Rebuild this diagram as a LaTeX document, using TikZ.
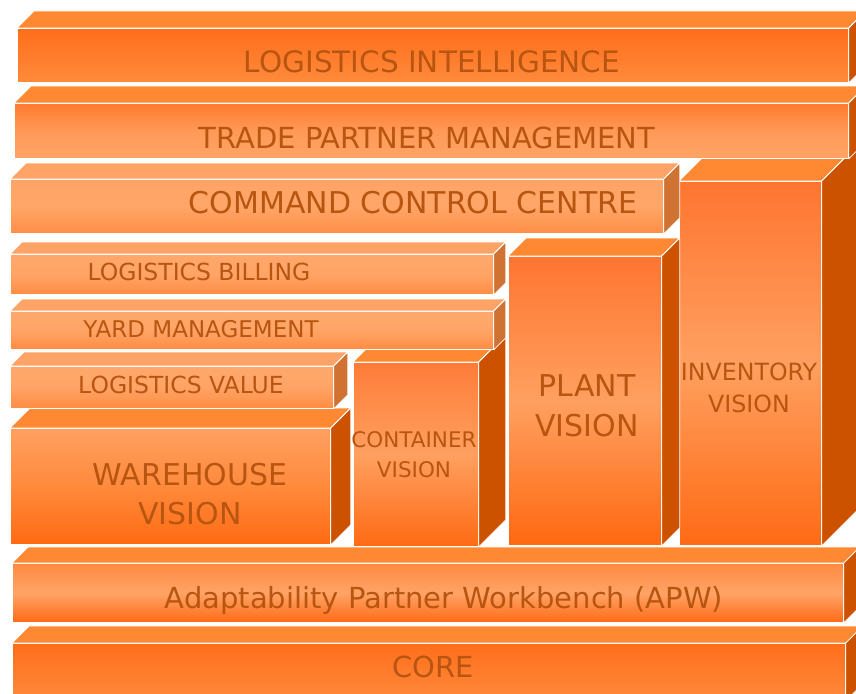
\documentclass[tikz,border=0pt]{standalone}
\usepackage{fontspec}
\setmainfont{DejaVu Sans}
\usetikzlibrary{shadings}

\definecolor{hotTop}{HTML}{FF8832}
\definecolor{hotSide}{HTML}{CC5200}
\definecolor{softTop}{HTML}{FFA466}
\definecolor{softSide}{HTML}{D07232}
\definecolor{labelInk}{HTML}{B85510}
\definecolor{FF6E1A}{HTML}{FF6E1A}\definecolor{FF8A3C}{HTML}{FF8A3C}
\definecolor{FF7A30}{HTML}{FF7A30}\definecolor{FF9A56}{HTML}{FF9A56}
\definecolor{FFA466}{HTML}{FFA466}\definecolor{FFA668}{HTML}{FFA668}
\definecolor{FF8E46}{HTML}{FF8E46}\definecolor{FFA86C}{HTML}{FFA86C}
\definecolor{FF8C42}{HTML}{FF8C42}\definecolor{FFA060}{HTML}{FFA060}
\definecolor{FF6A12}{HTML}{FF6A12}\definecolor{FF7C38}{HTML}{FF7C38}
\definecolor{FF6A14}{HTML}{FF6A14}\definecolor{FF7530}{HTML}{FF7530}
\definecolor{FF6810}{HTML}{FF6810}\definecolor{FF8A42}{HTML}{FF8A42}

\begin{document}
\begin{tikzpicture}
[x=1pt,y=-1pt,
  faceDecorate/.style={shape=rectangle,inner sep=0pt,anchor=north west,draw=white,line width=0.8pt},
  edgeDecorate/.style={draw=white,line width=0.8pt,line join=round},
  labelDecorate/.style={inner sep=0pt,text=labelInk,align=center},
  fIntel/.style={top color=FF6E1A,bottom color=FF8A3C},
  fTrade/.style={top color=FF7A30,bottom color=FFA466,middle color=FF9A56},
  fCmd/.style={top color=FFA466,bottom color=FF8E46,middle color=FFA668},
  fThin/.style={top color=FFA86C,bottom color=FF8C42,middle color=FFA466},
  fWare/.style={top color=FFA060,bottom color=FF6A12,middle color=FF8A3C},
  fCont/.style={top color=FF7C38,bottom color=FF6A14,middle color=FFA060},
  fPlant/.style={top color=FF7530,bottom color=FF6810,middle color=FFA060},
  fInv/.style={top color=FF7530,bottom color=FF6A14,middle color=FFA060},
  fApw/.style={top color=FF8A42,bottom color=FF6A14,middle color=FFA466},
  fCore/.style={top color=FF6E1A,bottom color=FF8A3C}]
\useasboundingbox (0,0) rectangle (856,693);
\clip (0,0) rectangle (856,693);
%% boxes, back ones first
\foreach \name/\xa/\ya/\xb/\yb/\d/\look/\tc/\sc in {
  inventory/679/181/821/545/35/fInv/hotTop/hotSide,
  intel/17/28/848/82/17/fIntel/hotTop/hotSide,
  trade/14/103/848/158/17/fTrade/hotTop/hotSide,
  plant/508/256/661/545/18/fPlant/hotTop/hotSide,
  command/10/179/663/233/16/fCmd/softTop/softSide,
  container/353/362/478/546/27/fCont/hotTop/hotSide,
  billing/10/254/493/294/12/fThin/softTop/softSide,
  yard/10/311/493/349/12/fThin/softTop/softSide,
  warehouse/10/428/330/544/20/fWare/hotTop/hotSide,
  value/10/366/333/408/14/fThin/softTop/softSide,
  apw/12/563/843/622/16/fApw/hotTop/hotSide,
  core/12/643/845/700/17/fCore/hotTop/hotSide}
{
  \pgfmathsetmacro\w{\xb-\xa}
  \pgfmathsetmacro\h{\yb-\ya}
  \node (\name) at (\xa,\ya) [faceDecorate,\look,minimum width=\w,minimum height=\h] {};
  \filldraw[edgeDecorate,fill=\tc] (\name.north west) -- ++(\d,-\d)
    -- ([shift={(\d,-\d)}]\name.north east) -- (\name.north east) -- cycle;
  \filldraw[edgeDecorate,fill=\sc] (\name.north east) -- ++(\d,-\d)
    -- ([shift={(\d,-\d)}]\name.south east) -- (\name.south east) -- cycle;
}
%% labels
\foreach \name/\x/\y/\anc/\sz/\sk/\txt in {
  intel/432/73/base/29.5/35/LOGISTICS INTELLIGENCE,
  trade/427/148/base/29/35/TRADE PARTNER MANAGEMENT,
  command/413/213/base/30/35/COMMAND CONTROL CENTRE,
  billing/199/280/base/23.5/28/LOGISTICS BILLING,
  yard/201/337/base/23/28/YARD MANAGEMENT,
  value/181/393/base/23.5/28/LOGISTICS VALUE,
  warehouse/190/494/center/30/39/WAREHOUSE\\VISION,
  container/414/455/center/21.5/30/CONTAINER\\VISION,
  plant/587/406/center/30/40/PLANT\\VISION,
  inventory/749/388/center/23.7/32/INVENTORY\\VISION,
  apw/444/608/base/29/35/Adaptability Partner Workbench (APW),
  core/433/677/base/29/35/CORE}
{
  \node (\name-label) at (\x,\y) [labelDecorate,anchor=\anc,font=\fontsize{\sz}{\sk}\selectfont] {\txt};
}
\end{tikzpicture}
\end{document}
